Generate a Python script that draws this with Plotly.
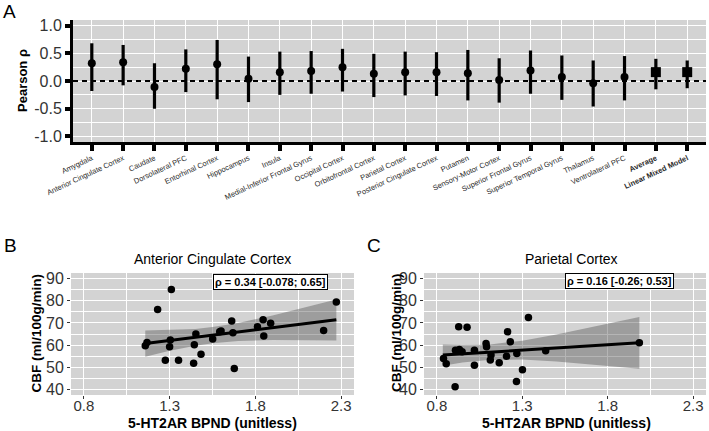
import plotly.graph_objects as go

# ---------------- Panel A data ----------------
regions = ["Amygdala", "Anterior Cingulate Cortex", "Caudate", "Dorsolateral PFC",
           "Entorhinal Cortex", "Hippocampus", "Insula", "Medial-Inferior Frontal Gyrus",
           "Occipital Cortex", "Orbitofrontal Cortex", "Parietal Cortex",
           "Posterior Cingulate Cortex", "Putamen", "Sensory-Motor Cortex",
           "Superior Frontal Gyrus", "Superior Temporal Gyrus", "Thalamus",
           "Ventrolateral PFC"]
region_rho = [0.32, 0.34, -0.11, 0.22, 0.30, 0.04, 0.16, 0.18, 0.25, 0.13, 0.16, 0.16,
              0.14, 0.02, 0.19, 0.07, -0.04, 0.07]
region_lo = [-0.18, -0.078, -0.50, -0.20, -0.33, -0.38, -0.25, -0.23, -0.19, -0.29, -0.26,
             -0.27, -0.35, -0.39, -0.23, -0.34, -0.46, -0.35]
region_hi = [0.68, 0.65, 0.32, 0.57, 0.74, 0.44, 0.53, 0.54, 0.58, 0.49, 0.53, 0.52,
             0.56, 0.41, 0.55, 0.46, 0.37, 0.45]

summary = ["Average", "Linear Mixed Model"]
summary_rho = [0.16, 0.16]
summary_lo = [-0.15, -0.13]
summary_hi = [0.40, 0.37]

a_yticks = [-1.0, -0.5, 0.0, 0.5, 1.0]

# ---------------- Panel B data (Anterior Cingulate Cortex) ----------------
acc_x = [1.158, 1.168, 1.23, 1.31, 1.304, 1.30, 1.275, 1.352, 1.44, 1.444, 1.453, 1.483,
         1.551, 1.592, 1.60, 1.662, 1.669, 1.677, 1.812, 1.845, 1.889, 1.849, 2.198, 2.272]
acc_y = [59.7, 61.2, 76.0, 85.1, 62.3, 59.2, 53.2, 53.2, 51.8, 60.1, 65.0, 55.9,
         62.7, 66.0, 66.3, 70.9, 65.6, 49.5, 68.3, 71.4, 69.8, 64.1, 66.6, 79.4]
acc_band_x = [1.158, 1.30, 1.45, 1.55, 1.70, 1.90, 2.10, 2.272]
acc_fit = [60.7, 62.1, 63.5, 64.5, 65.9, 67.8, 69.7, 71.4]
acc_hi = [66.6, 66.8, 67.3, 68.1, 70.0, 73.3, 77.2, 80.6]
acc_lo = [54.8, 57.4, 59.7, 60.8, 61.8, 62.3, 62.2, 62.1]
acc_label = "ρ = 0.34 [-0.078; 0.65]"

# ---------------- Panel C data (Parietal Cortex) ----------------
par_x = [0.839, 0.855, 0.907, 0.909, 0.928, 0.932, 0.948, 0.977, 1.02, 1.02, 1.088, 1.091,
         1.113, 1.117, 1.165, 1.214, 1.23, 1.208, 1.266, 1.268, 1.301, 1.336, 1.437, 1.985]
par_y = [53.9, 51.6, 41.2, 57.7, 68.3, 58.0, 57.0, 68.0, 57.7, 50.9, 60.7, 59.2,
         53.3, 55.5, 52.0, 66.0, 61.5, 55.0, 43.6, 56.2, 48.9, 72.4, 57.4, 61.0]
par_band_x = [0.835, 0.95, 1.10, 1.30, 1.50, 1.75, 1.985]
par_fit = [55.5, 56.05, 56.77, 57.72, 58.68, 59.87, 61.0]
par_hi = [60.3, 60.0, 60.2, 62.0, 64.8, 68.8, 72.7]
par_lo = [50.7, 52.1, 53.3, 53.5, 52.6, 51.0, 49.3]
par_label = "ρ = 0.16 [-0.26; 0.53]"

cbf_ticks = [40, 50, 60, 70, 80, 90]
bp_ticks = [0.8, 1.3, 1.8, 2.3]

W, H = 709, 431
FONT = "Liberation Sans, Arial, sans-serif"
BG = "#d3d3d3"
TXT = "#333333"


def px(x):
    return x / W


def py(y):
    return 1 - y / H


fig = go.Figure()

# ---- Panel A traces ----
fig.add_trace(go.Scatter(
    x=regions, y=region_rho, mode="markers", xaxis="x", yaxis="y",
    marker=dict(color="black", size=8, symbol="circle"),
    error_y=dict(type="data", symmetric=False,
                 array=[h - r for h, r in zip(region_hi, region_rho)],
                 arrayminus=[r - l for r, l in zip(region_rho, region_lo)],
                 color="black", thickness=3.2, width=0),
    showlegend=False, cliponaxis=False))
fig.add_trace(go.Scatter(
    x=summary, y=summary_rho, mode="markers", xaxis="x", yaxis="y",
    marker=dict(color="black", size=10, symbol="square"),
    error_y=dict(type="data", symmetric=False,
                 array=[h - r for h, r in zip(summary_hi, summary_rho)],
                 arrayminus=[r - l for r, l in zip(summary_rho, summary_lo)],
                 color="black", thickness=3.2, width=0),
    showlegend=False, cliponaxis=False))

# ---- Panel B traces ----
fig.add_trace(go.Scatter(x=acc_band_x, y=acc_lo, mode="lines", line=dict(width=0),
                         xaxis="x2", yaxis="y2", showlegend=False, hoverinfo="skip"))
fig.add_trace(go.Scatter(x=acc_band_x, y=acc_hi, mode="lines", line=dict(width=0),
                         fill="tonexty", fillcolor="rgba(90,90,90,0.45)",
                         xaxis="x2", yaxis="y2", showlegend=False, hoverinfo="skip"))
fig.add_trace(go.Scatter(x=acc_x, y=acc_y, mode="markers",
                         marker=dict(color="black", size=7.5),
                         xaxis="x2", yaxis="y2", showlegend=False))
fig.add_trace(go.Scatter(x=acc_band_x, y=acc_fit, mode="lines",
                         line=dict(color="black", width=3),
                         xaxis="x2", yaxis="y2", showlegend=False))

# ---- Panel C traces ----
fig.add_trace(go.Scatter(x=par_band_x, y=par_lo, mode="lines", line=dict(width=0),
                         xaxis="x3", yaxis="y3", showlegend=False, hoverinfo="skip"))
fig.add_trace(go.Scatter(x=par_band_x, y=par_hi, mode="lines", line=dict(width=0),
                         fill="tonexty", fillcolor="rgba(90,90,90,0.45)",
                         xaxis="x3", yaxis="y3", showlegend=False, hoverinfo="skip"))
fig.add_trace(go.Scatter(x=par_x, y=par_y, mode="markers",
                         marker=dict(color="black", size=7.5),
                         xaxis="x3", yaxis="y3", showlegend=False))
fig.add_trace(go.Scatter(x=par_band_x, y=par_fit, mode="lines",
                         line=dict(color="black", width=3),
                         xaxis="x3", yaxis="y3", showlegend=False))

all_cats = regions + summary
cat_text = regions + ["<b>%s</b>" % s for s in summary]

grid_major = dict(showgrid=True, gridcolor="white", gridwidth=1.3, automargin=False)


def scatter_x(domain, anchor):
    return dict(domain=domain, anchor=anchor, range=[0.725, 2.375],
                tickvals=bp_ticks, ticktext=["%.1f" % v for v in bp_ticks],
                tickfont=dict(size=15, color=TXT, family=FONT),
                ticks="outside", ticklen=3, tickwidth=1, tickcolor=TXT,
                ticklabelstandoff=-6,
                zeroline=False, showline=False,
                minor=dict(tickvals=[1.05, 1.55, 2.05], showgrid=True, gridcolor="white",
                           gridwidth=0.6, ticks=""),
                **grid_major)


def scatter_y(anchor):
    return dict(domain=[py(395), py(273)], anchor=anchor, range=[37.5, 92.5],
                tickvals=cbf_ticks, ticktext=[str(v) for v in cbf_ticks],
                tickfont=dict(size=16, color=TXT, family=FONT),
                ticks="outside", ticklen=3, tickwidth=1, tickcolor=TXT,
                zeroline=False, showline=False,
                minor=dict(tickvals=[45, 55, 65, 75, 85], showgrid=True, gridcolor="white",
                           gridwidth=0.6, ticks=""),
                **grid_major)


fig.update_layout(
    width=W, height=H, margin=dict(l=0, r=0, t=0, b=0, pad=0, autoexpand=False),
    paper_bgcolor="white", plot_bgcolor=BG,
    font=dict(family=FONT, color=TXT),
    xaxis=dict(domain=[px(73), px(706)], anchor="y", type="category",
               categoryorder="array", categoryarray=all_cats,
               range=[-0.6, len(all_cats) - 0.4],
               tickvals=all_cats, ticktext=cat_text, tickangle=-25,
               tickfont=dict(size=7.5, color="#2a2a2a", family=FONT),
               ticks="outside", ticklen=6, tickwidth=4, tickcolor="black",
               showline=True, linecolor="black", linewidth=3,
               zeroline=False, **grid_major),
    yaxis=dict(domain=[py(142), py(20)], anchor="x", range=[-1.1, 1.1],
               tickvals=a_yticks, ticktext=["%.1f" % v for v in a_yticks],
               tickfont=dict(size=16, color=TXT, family=FONT),
               ticks="outside", ticklen=5, tickwidth=4, tickcolor="black",
               showline=True, linecolor="black", linewidth=3,
               zeroline=False,
               minor=dict(dtick=0.25, tick0=0, showgrid=True, gridcolor="white",
                          gridwidth=0.6, ticks=""),
               **grid_major),
    xaxis2=scatter_x([px(71), px(354)], "y2"),
    yaxis2=scatter_y("x2"),
    xaxis3=scatter_x([px(424), px(706)], "y3"),
    yaxis3=scatter_y("x3"),
)

# dashed zero line in panel A
fig.add_shape(type="line", xref="x domain", yref="y", x0=0, x1=1, y0=0, y1=0,
              line=dict(color="black", width=2, dash="5px,4px"), layer="above")


def ann(text, x, y, size, bold=False, angle=0, color="black", **kw):
    fig.add_annotation(text=("<b>%s</b>" % text) if bold else text,
                       x=px(x), y=py(y), xref="paper", yref="paper",
                       xanchor="center", yanchor="middle", showarrow=False,
                       textangle=angle, font=dict(size=size, color=color, family=FONT), **kw)


ann("A", 9.7, 12, 19)
ann("B", 10.8, 245, 19)
ann("C", 373.8, 246, 19)
ann("Pearson ρ", 23, 81, 13, bold=True, angle=-90)
ann("CBF (ml/100g/min)", 35.5, 333, 13.5, bold=True, angle=-90)
ann("CBF (ml/100g/min)", 396, 333, 13.5, bold=True, angle=-90)
ann("Anterior Cingulate Cortex", 212.5, 258.6, 14)
ann("Parietal Cortex", 571, 258.6, 14)
ann("5-HT2AR BPND (unitless)", 213, 423, 14, bold=True)
ann("5-HT2AR BPND (unitless)", 566, 423, 14, bold=True)
ann(acc_label, 270.7, 282, 11, bold=True, bgcolor="white", bordercolor="black",
    borderwidth=1, borderpad=1)
ann(par_label, 619, 281, 11, bold=True, bgcolor="white", bordercolor="black",
    borderwidth=1, borderpad=1)

fig.write_html("out.html")
